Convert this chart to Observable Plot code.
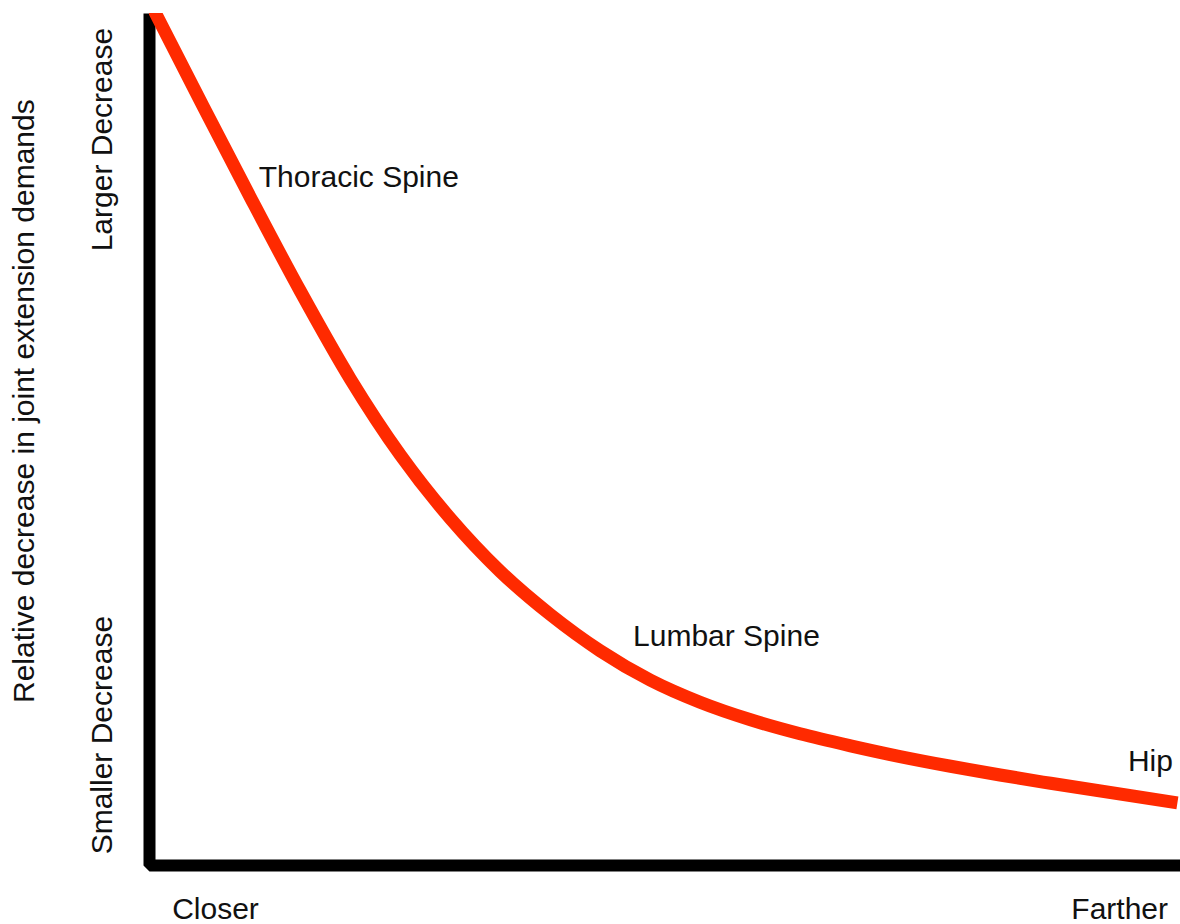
<!DOCTYPE html>
<html>
<head>
<meta charset="utf-8">
<script src="https://cdn.jsdelivr.net/npm/d3@7"></script>
<script src="https://cdn.jsdelivr.net/npm/@observablehq/plot@0.6"></script>
<style>
  html, body { margin: 0; padding: 0; background: #fff; }
  #chart svg { display: block; }
</style>
</head>
<body>
<div id="chart"></div>
<script>
// Distance (0 = closer, 100 = farther) vs relative decrease (0 = smaller, 100 = larger)
const distance = [0, 4.95, 9.8, 14.65, 19.5, 24.35, 29.2, 34.0, 38.9, 43.7, 48.6, 53.4, 58.3, 63.1, 68.0, 72.8, 77.7, 82.5, 87.4, 99.7];
const decrease = [101.4, 89.7, 78.38, 67.37, 57.07, 48.15, 40.7, 34.54, 29.43, 25.21, 21.74, 19.16, 17.1, 15.46, 14.05, 12.79, 11.65, 10.62, 9.65, 7.35];

const joints = ["Thoracic Spine", "Lumbar Spine", "Hip"];
const jointX = [10.6, 46.9, 94.9];
const jointY = [79.6, 25.8, 11.15];

const xTickLabels = ["Closer", "Farther"];
const xTickPos = [6.4, 94.1];
const yTickLabels = ["Larger Decrease", "Smaller Decrease"];
const yTickPos = [85.2, 15.3];
const yTitle = "Relative decrease in joint extension demands";
const yTitlePos = 54.5;

const curve = distance.map((d, i) => ({x: d, y: decrease[i]}));
const axisFrame = [{x: 0, y: 100}, {x: 0, y: 0}, {x: 100, y: 0}];
const jointLabels = joints.map((t, i) => ({t, x: jointX[i], y: jointY[i]}));
const xTicks = xTickLabels.map((t, i) => ({t, x: xTickPos[i]}));
const yTicks = yTickLabels.map((t, i) => ({t, y: yTickPos[i]}));

const font = "'Liberation Sans', Arial, Helvetica, sans-serif";
const fs = 30;

const chart = Plot.plot({
  width: 1180,
  height: 924,
  marginLeft: 149,
  marginRight: 0,
  marginTop: 13,
  marginBottom: 59,
  style: {fontFamily: font, background: "#fff", overflow: "visible"},
  x: {domain: [0, 100], axis: null},
  y: {domain: [0, 100], axis: null},
  marks: [
    Plot.line(axisFrame, {x: "x", y: "y", stroke: "#000", strokeWidth: 12, strokeLinejoin: "miter", strokeLinecap: "butt"}),
    Plot.line(curve, {x: "x", y: "y", stroke: "#ff2a00", strokeWidth: 13, curve: "monotone-x", strokeLinecap: "butt", clip: "frame"}),
    Plot.text(jointLabels, {x: "x", y: "y", text: "t", textAnchor: "start", lineAnchor: "bottom", fontSize: fs, fill: "#111"}),
    Plot.text(xTicks, {x: "x", text: "t", frameAnchor: "bottom", dy: 53, textAnchor: "middle", lineAnchor: "bottom", fontSize: fs, fill: "#111"}),
    Plot.text(yTicks, {y: "y", text: "t", frameAnchor: "left", dx: -38, rotate: -90, textAnchor: "middle", lineAnchor: "bottom", fontSize: fs, fill: "#111"}),
    Plot.text([yTitle], {y: [yTitlePos], text: d => d, frameAnchor: "left", dx: -116, rotate: -90, textAnchor: "middle", lineAnchor: "bottom", fontSize: fs, fill: "#111"})
  ]
});
document.getElementById("chart").appendChild(chart);
</script>
</body>
</html>
